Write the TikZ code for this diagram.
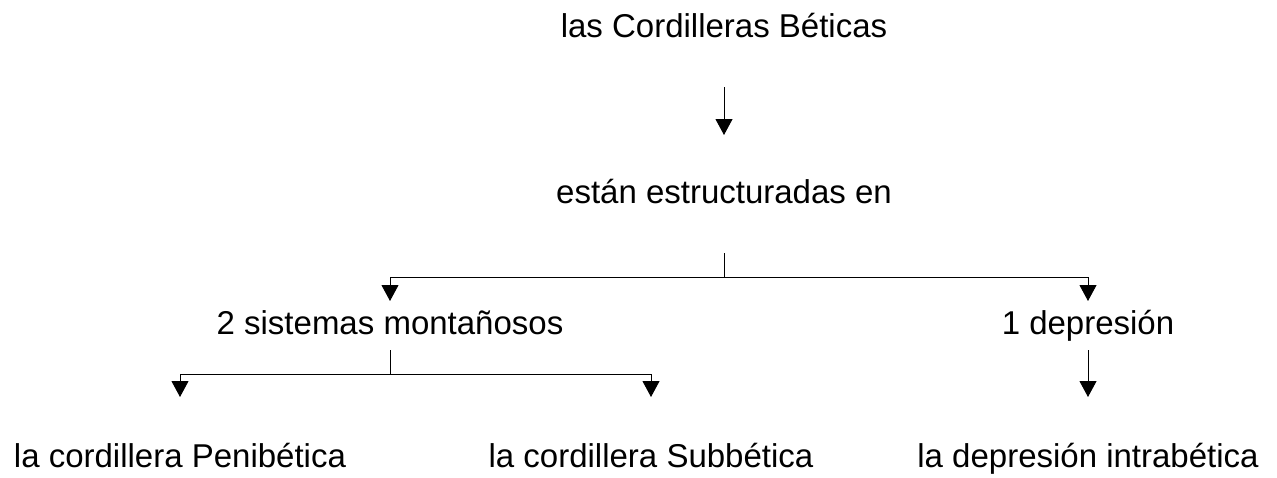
\documentclass[tikz,border=0pt]{standalone}
\usepackage{fontspec}
\setmainfont{Liberation Sans}
\usetikzlibrary{arrows.meta}
\tikzstyle{every node}=[font=\fontsize{33}{40}\selectfont]
\tikzstyle{label}=[anchor=base, inner sep=0pt]
\tikzstyle{link}=[draw=black, line width=1pt]

\begin{document}
\begin{tikzpicture}[x=1pt, y=-1pt, >={Triangle[width=17pt,length=16pt]}]
            \useasboundingbox (0,0) rectangle (1277,477);
            \node[label] (root) at (724,37) {las Cordilleras Béticas};
            \node[label] (est) at (724,203) {están estructuradas en};
            \node[label] (sys) at (390,334) {2 sistemas montañosos};
            \node[label] (dep) at (1088,334) {1 depresión};
            \node[label] (pen) at (180,467) {la cordillera Penibética};
            \node[label] (sub) at (651,467) {la cordillera Subbética};
            \node[label] (intra) at (1088,467) {la depresión intrabética};
            \coordinate (fork1) at (724,277);
            \coordinate (fork2) at (390,374);
            \draw[link, ->] ([yshift=-50pt]root.base) -- ([yshift=68pt]est.base);
            \draw[link] ([yshift=-50pt]est.base) -- (fork1);
            \draw[link, ->] (fork1) -| ([yshift=33pt]sys.base);
            \draw[link, ->] (fork1) -| ([yshift=33pt]dep.base);
            \draw[link] ([yshift=-16pt]sys.base) -- (fork2);
            \draw[link, ->] (fork2) -| ([yshift=70pt]pen.base);
            \draw[link, ->] (fork2) -| ([yshift=70pt]sub.base);
            \draw[link, ->] ([yshift=-16pt]dep.base) -- ([yshift=70pt]intra.base);
        \end{tikzpicture}
\end{document}
